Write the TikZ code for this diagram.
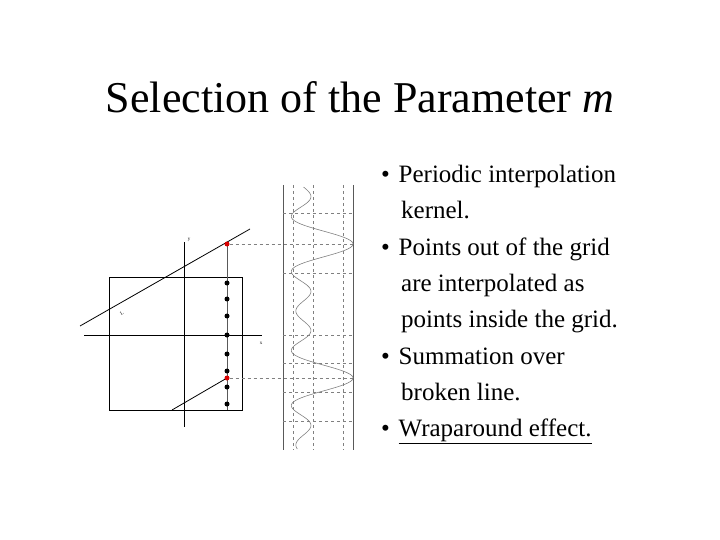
\documentclass[tikz,border=0pt]{standalone}
\usepackage{fontspec}
\setmainfont{Liberation Serif}
\begin{document}
\begin{tikzpicture}[x=1pt,y=-1pt,
  ln/.style={black,line width=0.8pt},
  grd/.style={gray,dashed,line width=0.5pt},
  dot/.style={circle,fill=black,inner sep=0pt,minimum size=5pt},
  rdot/.style={circle,fill=red!85!black,inner sep=0pt,minimum size=5pt},
  bul/.style={anchor=north west,align=left,font=\fontsize{25}{36.3}\selectfont,inner sep=0pt}]
\useasboundingbox (0,0) rectangle (720,540);
\node (title) at (360,97) {\fontsize{44}{50}\selectfont Selection of the Parameter \textit{m}};
% left plot
\draw[ln] (109,277) rectangle (242,410);
\draw[ln] (84,335) -- (262,335);
\draw[ln] (184,242) -- (184,427);
\draw[gray!70!black,line width=0.8pt] (227,243) -- (227,410);
\draw[ln] (80,326) -- (250,229);
\draw[ln] (172,410) -- (227,378);
\node[font=\tiny] (ly) at (189,240) {y};
\node[font=\tiny] (lx) at (261,343) {x};
\node[font=\tiny,rotate=30] (lL) at (122,313) {L};
\foreach \yy in {283,299,316,335,354,371,387,404} \node[dot] at (227,\yy) {};
\node[rdot] (r1) at (227,244) {};
\node[rdot] (r2) at (227,378) {};
% right panel
\draw[gray!70!black,line width=0.8pt] (283,185) -- (283,450) (353,185) -- (353,450);
\foreach \xx in {293,313,343} \draw[grd] (\xx,185) -- (\xx,450);
\foreach \yy in {213,273,335,363,392,421} \draw[grd] (283,\yy) -- (353,\yy);
\coordinate (e1) at (353,244);
\coordinate (e2) at (353,378);
\draw[grd] (r1) -- (e1);
\draw[grd,line width=0.9pt] (r2) -- (e2);
\draw[gray,line width=0.6pt] plot[domain=187:449,samples=500,smooth]
  ({303+50*(1+2*cos(((\x-244)/134*360))+2*cos(2*((\x-244)/134*360))+2*cos(3*((\x-244)/134*360)))/7},\x);
% bullets
\node[bul] (b) at (381,165) {%
\textbullet\hspace{0.35em}Periodic interpolation\\
\hspace{0.8em}kernel.\\
\textbullet\hspace{0.35em}Points out of the grid\\
\hspace{0.8em}are interpolated as\\
\hspace{0.8em}points inside the grid.\\
\textbullet\hspace{0.35em}Summation over\\
\hspace{0.8em}broken line.\\
\textbullet\hspace{0.35em}\underline{Wraparound effect.}};
\end{tikzpicture}
\end{document}
